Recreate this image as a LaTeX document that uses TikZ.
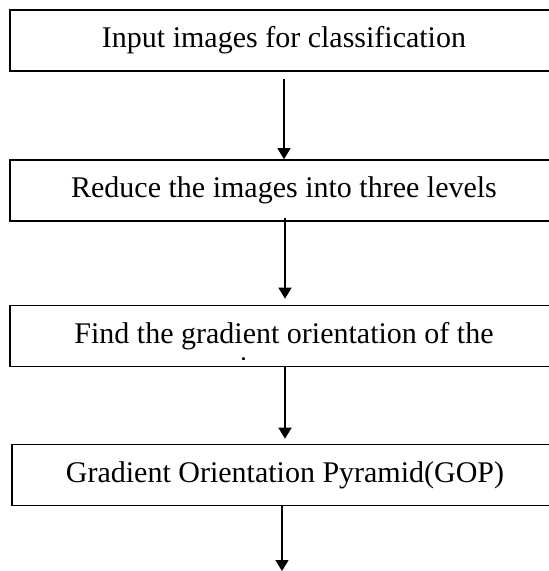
\documentclass[tikz,border=0pt]{standalone}
\usepackage{fontspec}
\setmainfont{Liberation Serif}
\usetikzlibrary{arrows.meta}
\begin{document}
\begin{tikzpicture}[x=1pt,y=-1pt,
  box/.style={draw, line width=1.6pt, minimum width=548pt, minimum height=61pt, inner sep=0pt, font=\fontsize{30}{34.5}\selectfont},
  boxtext/.style={inner sep=0pt, anchor=base, font=\fontsize{30}{34.5}\selectfont},
  conn/.style={line width=1.4pt, -{Triangle[width=13pt,length=11pt]}}]
\useasboundingbox (0,0) rectangle (549,571);
\clip (0,0) rectangle (549,571);
\node[box] (b1) at (284,40.5) {Input images for classification};
\node[box] (b2) at (284,190.5) {Reduce the images into three levels};
\node[box] (b3) at (284,336) {};
\node[box, minimum width=546pt] (b4) at (285,475) {Gradient Orientation Pyramid(GOP)};
\begin{scope}
  \clip (b3.north west) rectangle ([yshift=7.5pt]b3.south east);
  \node[boxtext] (t3) at (284,343) {Find the gradient orientation of the};
  \node[boxtext] (t3b) at (282,377) {images};
\end{scope}
\coordinate (end) at (282,571);
\draw[conn] ([yshift=-7pt]b1.south) -- (b2.north);
\draw[conn] ([xshift=1pt,yshift=4pt]b2.south) -- ([xshift=1pt,yshift=6pt]b3.north);
\draw[conn] ([xshift=1pt]b3.south) -- ([yshift=5pt]b4.north);
\draw[conn] (b4.south -| end) -- (end);
\end{tikzpicture}
\end{document}
